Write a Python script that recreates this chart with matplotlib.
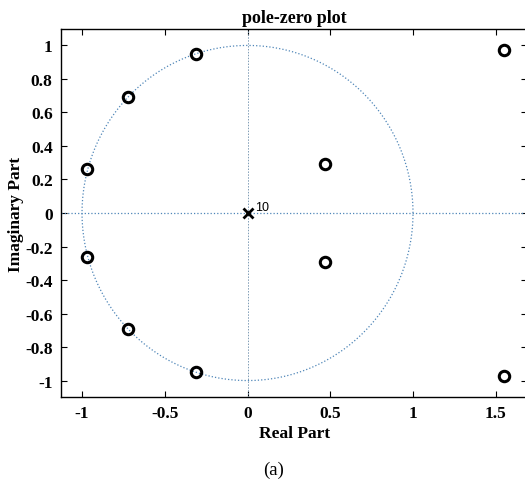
import numpy as np
import matplotlib
matplotlib.use('Agg')
import matplotlib.pyplot as plt

# zeros (real, imag) and the pole at the origin
zeros_re = [1.55, 1.55, 0.47, 0.47, -0.31, -0.31, -0.72, -0.72, -0.97, -0.97]
zeros_im = [0.97, -0.97, 0.29, -0.29, 0.95, -0.95, 0.69, -0.69, 0.26, -0.26]
poles_re = [0.0]
poles_im = [0.0]
pole_order = 10

xticks = [-1, -0.5, 0, 0.5, 1, 1.5]
yticks = [-1, -0.8, -0.6, -0.4, -0.2, 0, 0.2, 0.4, 0.6, 0.8, 1]

plt.rcParams['font.family'] = ['Liberation Serif', 'DejaVu Serif']

fig = plt.figure(figsize=(5.25, 4.81), dpi=100)
ax = fig.add_axes([0.1162, 0.1726, 0.888, 0.765])

# unit circle and the axes through the origin
t = np.linspace(0, 2 * np.pi, 400)
ax.plot(np.cos(t), np.sin(t), ':', color='#4f86b8', lw=0.9)
ax.axhline(0, ls=':', color='#4f86b8', lw=0.9)
ax.axvline(0, ls=(0, (1.5, 1.5)), color='#7f9cb5', lw=0.7)

ax.plot(zeros_re, zeros_im, 'o', ms=7.5, mfc='none', mec='black', mew=2.2)
ax.plot(poles_re, poles_im, 'x', ms=7, mec='black', mew=2.0)
ax.text(poles_re[0] + 0.045, poles_im[0] + 0.02, str(pole_order),
        family='Liberation Sans', fontsize=9, ha='left', va='baseline')

ax.set_xlim(-1.127, 1.69)
ax.set_ylim(-1.098, 1.098)
ax.set_xticks(xticks)
ax.set_xticklabels(['-1', '-0.5', '0', '0.5', '1', '1.5'])
ax.set_yticks(yticks)
ax.set_yticklabels(['-1', '-0.8', '-0.6', '-0.4', '-0.2', '0',
                    '0.2', '0.4', '0.6', '0.8', '1'])
ax.tick_params(direction='in', top=True, right=True, length=4, width=0.8,
               labelsize=12.5, pad=6)
for lab in ax.get_xticklabels() + ax.get_yticklabels():
    lab.set_fontweight('bold')
for s in ax.spines.values():
    s.set_linewidth(1.0)

ax.set_title('pole-zero plot', fontsize=13, fontweight='bold', pad=5)
ax.set_xlabel('Real Part', fontsize=12.5, fontweight='bold', labelpad=3)
ax.set_ylabel('Imaginary Part', fontsize=12.5, fontweight='bold', labelpad=1)
fig.text(0.522, 0.023, '(a)', fontsize=13.5, ha='center', va='center')

fig.savefig('out.png', dpi=100)
